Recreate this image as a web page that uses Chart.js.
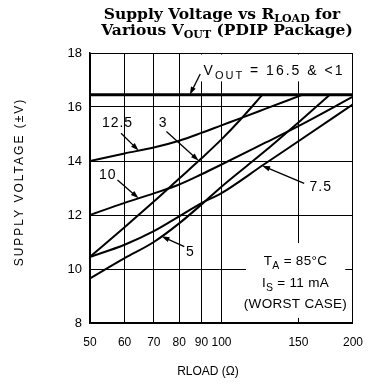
<!DOCTYPE html>
<html>
<head>
<meta charset="utf-8">
<script src="https://cdn.jsdelivr.net/npm/chart.js@4/dist/chart.umd.min.js"></script>
<style>
  html, body { margin: 0; padding: 0; background: #fff; }
</style>
</head>
<body>
<canvas id="chart" width="375" height="390"></canvas>
<script>
// RLOAD axis ticks (ohms) and supply voltage ticks (V)
const rLoadTicks = [50, 60, 70, 80, 90, 100, 150, 200];
const supplyTicks = [8, 10, 12, 14, 16, 18];

// one curve per VOUT, supply voltage vs RLOAD
const rLimit = [50, 200];
const vLimit = [16.45, 16.45];
const r12_5 = [50, 60, 70, 80, 90, 100, 110, 125, 153];
const v12_5 = [14.0, 14.28, 14.5, 14.75, 15.04, 15.32, 15.57, 15.91, 16.45];
const r10 = [50, 60, 70, 80, 90, 100, 125, 150, 200];
const v10 = [12.0, 12.45, 12.8, 13.13, 13.51, 13.87, 14.65, 15.29, 16.38];
const r7_5 = [50, 60, 70, 80, 90, 100, 125, 150, 200];
const v7_5 = [10.45, 10.9, 11.4, 11.95, 12.44, 12.81, 13.87, 14.73, 16.1];
const r5 = [50, 60, 70, 80, 90, 100, 125, 150, 177];
const v5 = [9.65, 10.4, 11.0, 11.69, 12.39, 13.05, 14.33, 15.43, 16.45];
const r3 = [50, 60, 70, 80, 90, 100, 110, 124];
const v3 = [10.45, 11.55, 12.5, 13.35, 14.1, 14.8, 15.5, 16.45];

const pts = (r, v) => r.map((x, i) => ({ x: x, y: v[i] }));

// value on a curve at a given RLOAD (linear in log R)
function curveAt(r, v, x) {
  for (let i = 1; i < r.length; i++) {
    if (x <= r[i]) {
      const t = (Math.log(x) - Math.log(r[i - 1])) / (Math.log(r[i]) - Math.log(r[i - 1]));
      return v[i - 1] + t * (v[i] - v[i - 1]);
    }
  }
  return v[v.length - 1];
}

const SANS = '"Liberation Sans", Arial, sans-serif';
const SERIF = '"DejaVu Serif", "Liberation Serif", serif';

// callouts: label position, arrow tail, arrow tip on its curve
const callouts = [
  { text: '12.5', at: [57.8, 15.40], tail: [58.9, 15.03], tip: 64.6, r: r12_5, v: v12_5 },
  { text: '3', at: [73.5, 15.40], tail: [74.8, 15.09], tip: 88.7, r: r3, v: v3 },
  { text: '10', at: [54.9, 13.48], tail: [57.8, 13.30], tip: 64.6, r: r10, v: v10 },
  { text: '7.5', at: [168.8, 13.04], tail: [154.6, 13.17], tip: 123.9, r: r7_5, v: v7_5 },
  { text: '5', at: [84.9, 10.64], tail: [82.2, 10.83], tip: 72.9, r: r5, v: v5 }
];

function drawRich(ctx, runs, x, y, align) {
  let w = 0;
  runs.forEach(function (p) { ctx.font = p.font; w += ctx.measureText(p.t).width; });
  let cx = align === 'center' ? x - w / 2 : x;
  ctx.textAlign = 'left';
  runs.forEach(function (p) {
    ctx.font = p.font;
    ctx.fillText(p.t, cx, y + (p.dy || 0));
    cx += ctx.measureText(p.t).width;
  });
}

function arrow(ctx, x1, y1, x2, y2) {
  const a = Math.atan2(y2 - y1, x2 - x1);
  const L = 8, W = 2.6;
  ctx.beginPath();
  ctx.moveTo(x1, y1);
  ctx.lineTo(x2 - L * 0.7 * Math.cos(a), y2 - L * 0.7 * Math.sin(a));
  ctx.stroke();
  ctx.beginPath();
  ctx.moveTo(x2, y2);
  ctx.lineTo(x2 - L * Math.cos(a) + W * Math.sin(a), y2 - L * Math.sin(a) - W * Math.cos(a));
  ctx.lineTo(x2 - L * Math.cos(a) - W * Math.sin(a), y2 - L * Math.sin(a) + W * Math.cos(a));
  ctx.closePath();
  ctx.fill();
}

const notes = {
  id: 'notes',
  beforeDatasetsDraw(chart) {
    const ctx = chart.ctx, xs = chart.scales.x, ys = chart.scales.y;
    // white panels under the two notes, over the grid
    ctx.save();
    ctx.fillStyle = '#fff';
    let x1 = xs.getPixelForValue(86), x2 = xs.getPixelForValue(198);
    ctx.fillRect(x1, ys.top + 1.5, x2 - x1, ys.getPixelForValue(16.95) - ys.top - 1.5);
    x1 = xs.getPixelForValue(113.8); x2 = xs.getPixelForValue(192);
    ctx.fillRect(x1, ys.getPixelForValue(10.96), x2 - x1, ys.getPixelForValue(8.19) - ys.getPixelForValue(10.96));
    ctx.restore();
  },
  afterDatasetsDraw(chart) {
    const ctx = chart.ctx, xs = chart.scales.x, ys = chart.scales.y;
    const X = function (r) { return xs.getPixelForValue(r); };
    const Y = function (v) { return ys.getPixelForValue(v); };
    ctx.save();
    ctx.fillStyle = '#000';
    ctx.strokeStyle = '#000';
    ctx.lineWidth = 1.3;
    ctx.textBaseline = 'middle';
    ctx.textAlign = 'center';
    callouts.forEach(function (c) {
      ctx.font = '14px ' + SANS;
      ctx.letterSpacing = '1px';
      ctx.fillText(c.text, X(c.at[0]), Y(c.at[1]));
      ctx.letterSpacing = '0px';
      arrow(ctx, X(c.tail[0]), Y(c.tail[1]), X(c.tip), Y(curveAt(c.r, c.v, c.tip)));
    });

    // VOUT note with its arrow to the top line
    ctx.textBaseline = 'alphabetic';
    ctx.letterSpacing = '2px';
    drawRich(ctx, [
      { t: 'V', font: '14px ' + SANS },
      { t: 'OUT', font: '11px ' + SANS, dy: 4 },
      { t: ' = 16.5 & <1', font: '14px ' + SANS }
    ], X(91), Y(17.19), 'left');
    ctx.letterSpacing = '0px';
    arrow(ctx, X(89.4), Y(17.22), X(84.6), Y(curveAt(rLimit, vLimit, 84.6)));

    // test conditions
    const cx = X(147.7);
    ctx.letterSpacing = '0.3px';
    drawRich(ctx, [
      { t: 'T', font: '13.5px ' + SANS },
      { t: 'A', font: '10.5px ' + SANS, dy: 4 },
      { t: ' = 85°C', font: '13.5px ' + SANS }
    ], cx, Y(10.15), 'center');
    drawRich(ctx, [
      { t: 'I', font: '13.5px ' + SANS },
      { t: 'S', font: '10.5px ' + SANS, dy: 4 },
      { t: ' = 11 mA', font: '13.5px ' + SANS }
    ], cx, Y(9.35), 'center');
    drawRich(ctx, [{ t: '(WORST CASE)', font: '13.5px ' + SANS }], cx, Y(8.54), 'center');
    ctx.letterSpacing = '0px';
    ctx.restore();
  },
  afterDraw(chart) {
    const ctx = chart.ctx;
    ctx.save();
    ctx.fillStyle = '#000';
    ctx.textBaseline = 'alphabetic';
    const B = 'bold 15.5px ' + SERIF, b = 'bold 11px ' + SERIF;
    drawRich(ctx, [
      { t: 'Supply Voltage vs R', font: B },
      { t: 'LOAD', font: b, dy: 3 },
      { t: ' for', font: B }
    ], 222, 19, 'center');
    drawRich(ctx, [
      { t: 'Various V', font: B },
      { t: 'OUT', font: b, dy: 3 },
      { t: ' (PDIP Package)', font: B }
    ], 227, 35, 'center');

    // axis titles
    ctx.textAlign = 'center';
    ctx.textBaseline = 'middle';
    ctx.font = '12px ' + SANS;
    ctx.fillText('RLOAD (\u03A9)', 208, 372);
    ctx.translate(20, 182);
    ctx.rotate(-Math.PI / 2);
    ctx.letterSpacing = '2px';
    ctx.fillText('SUPPLY VOLTAGE (\u00B1V)', 0, 0);
    ctx.letterSpacing = '0px';
    ctx.restore();
  }
};

const line = function (r, v, w) {
  return {
    data: pts(r, v),
    borderColor: '#000',
    borderWidth: w,
    pointRadius: 0,
    fill: false,
    cubicInterpolationMode: 'monotone'
  };
};

new Chart(document.getElementById('chart'), {
  type: 'line',
  data: {
    datasets: [
      line(rLimit, vLimit, 3),
      line(r12_5, v12_5, 2),
      line(r10, v10, 2),
      line(r7_5, v7_5, 2),
      line(r5, v5, 2),
      line(r3, v3, 2)
    ]
  },
  options: {
    responsive: false,
    animation: false,
    layout: { padding: { top: 53, right: 15, left: 0, bottom: 0 } },
    plugins: { legend: { display: false }, tooltip: { enabled: false }, title: { display: false } },
    scales: {
      x: {
        type: 'logarithmic',
        min: 50,
        max: 200,
        afterBuildTicks: function (s) { s.ticks = rLoadTicks.map(function (v) { return { value: v }; }); },
        afterFit: function (s) { s.height = 67; },
        ticks: {
          autoSkip: false,
          maxRotation: 0,
          padding: 12,
          color: '#000',
          font: { family: SANS, size: 12 },
          callback: function (v) { return String(v); }
        },
        grid: { color: '#000', lineWidth: 1, drawTicks: false },
        border: { color: '#000', width: 1.5 }
      },
      y: {
        min: 8,
        max: 18,
        afterBuildTicks: function (s) { s.ticks = supplyTicks.map(function (v) { return { value: v }; }); },
        afterFit: function (s) { s.width = 90; },
        ticks: {
          padding: 8,
          color: '#000',
          font: { family: SANS, size: 13 }
        },
        grid: { color: '#000', lineWidth: 1, drawTicks: false },
        border: { color: '#000', width: 1.5 }
      }
    }
  },
  plugins: [notes]
});
</script>
</body>
</html>
